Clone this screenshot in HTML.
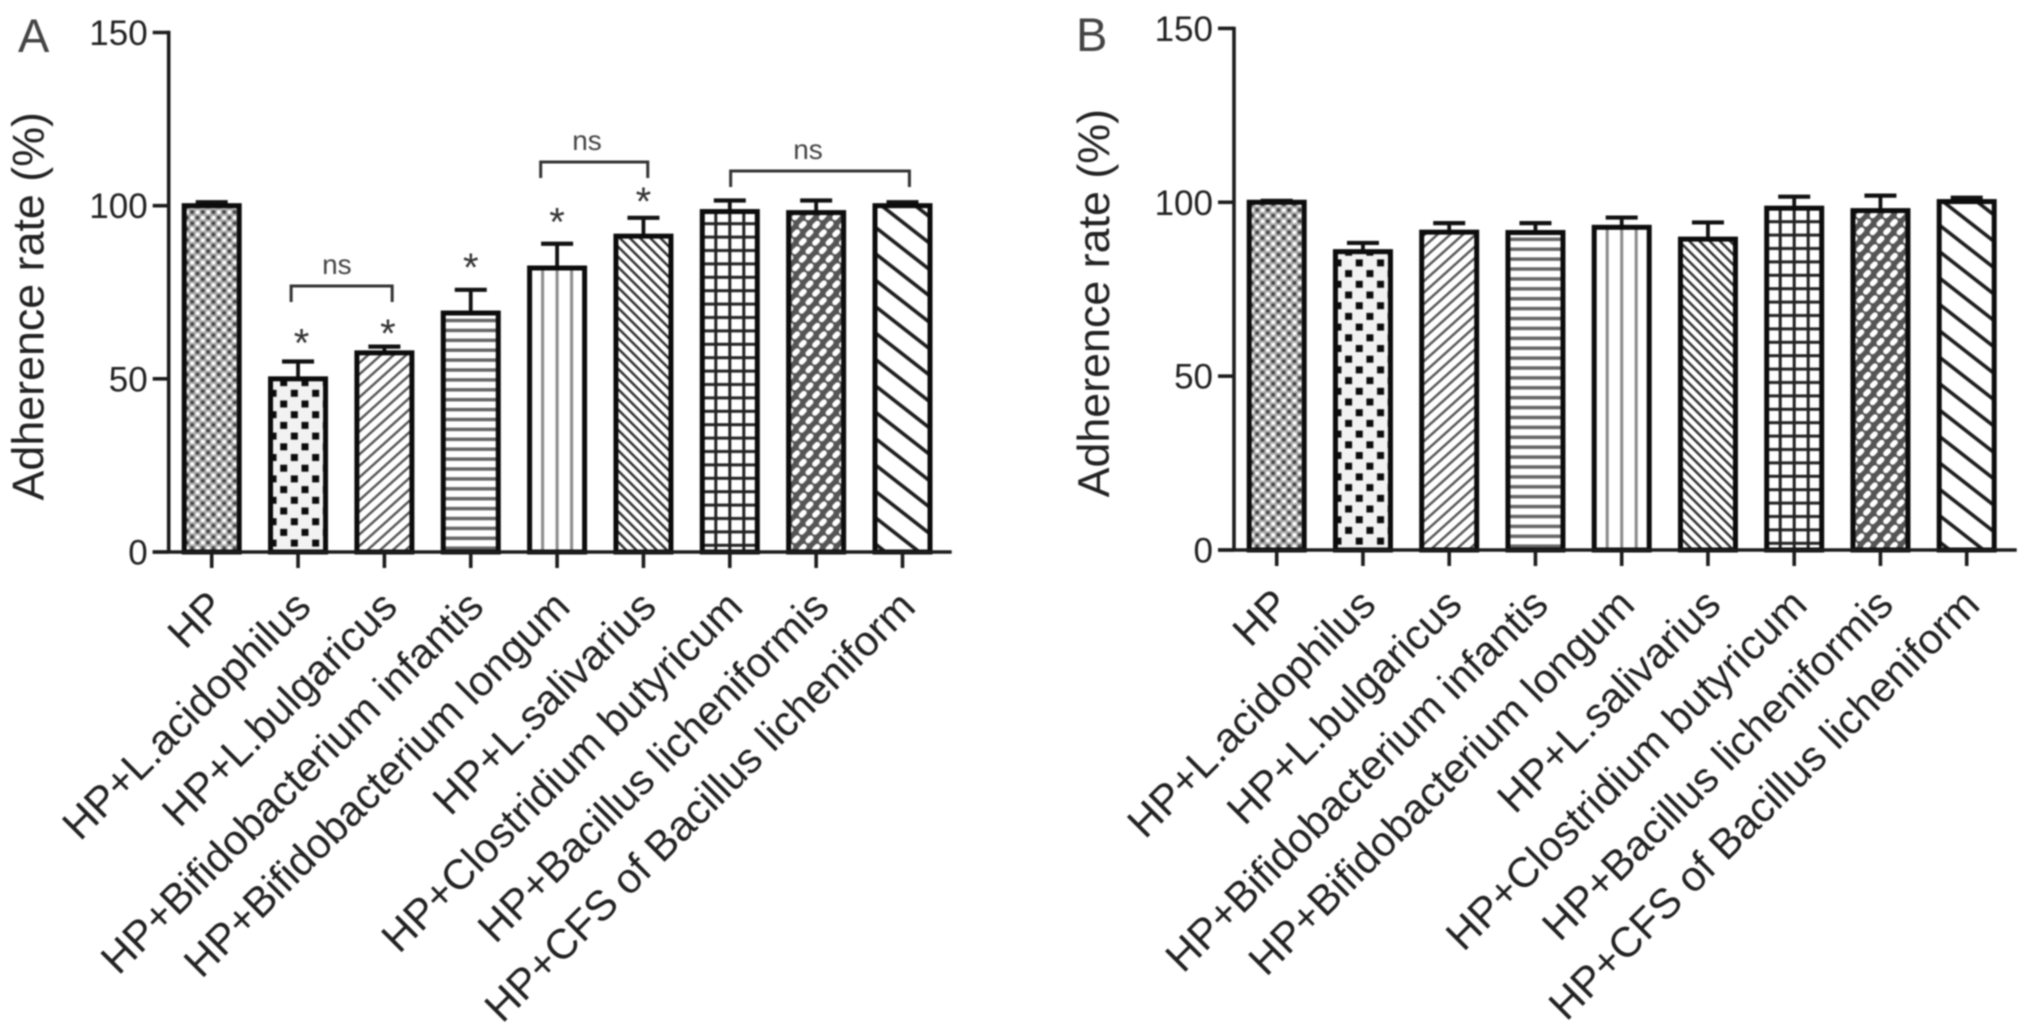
<!DOCTYPE html>
<html lang="en">
<head>
<meta charset="utf-8">
<title>Adherence rate bar charts</title>
<style>
html,body{margin:0;padding:0;background:#fff;}
body{width:2031px;height:1035px;overflow:hidden;}
svg{display:block;filter:blur(0.9px);}
text{font-family:"Liberation Sans",Arial,sans-serif;}
</style>
</head>
<body>
<svg id="chart" xmlns="http://www.w3.org/2000/svg" width="2031" height="1035" viewBox="0 0 2031 1035"></svg>
<script>
const categories = ["HP","HP+L.acidophilus","HP+L.bulgaricus","HP+Bifidobacterium infantis","HP+Bifidobacterium longum","HP+L.salivarius","HP+Clostridium butyricum","HP+Bacillus licheniformis","HP+CFS of Bacillus licheniform"];
const yTicks = [0,50,100,150];
const valuesA = [100,50,57.5,69,82,91.2,98.3,98,100];
const capsA = [101,55,59.3,75.7,89,96.5,101.5,101.5,101];
const valuesB = [100,85.8,91.4,91.3,92.8,89.4,98.3,97.6,100.2];
const capsB = [100.4,88.3,94,94,95.6,94.2,101.6,101.9,101.3];
const starPosA = [1.04,2.04,3,4,5];
const starLevelsA = [62,64.7,83.7,96.8,102.8];
const bracketFromA = [0.92,3.81,6.01];
const bracketToA = [2.09,5.05,8.08];
const bracketLevelsA = [76.8,112.6,110];
const bracketLabelPosA = [1.45,4.346,6.906];
const bracketLabelsA = ["ns","ns","ns"];

const SVGNS = "http://www.w3.org/2000/svg";
const svg = document.getElementById("chart");
const defs = document.createElementNS(SVGNS,"defs");
svg.appendChild(defs);

function mk(parent,tag,attrs,text){
  const el = document.createElementNS(SVGNS,tag);
  for(const k in attrs){ el.setAttribute(k,attrs[k]); }
  if(text!==undefined){ el.textContent = text; }
  parent.appendChild(el);
  return el;
}

function linePattern(id,spacing,angle,width,color,tx,ty){
  const p = mk(defs,"pattern",{id:id,patternUnits:"userSpaceOnUse",width:spacing,height:spacing,patternTransform:"translate("+tx+" "+ty+") rotate("+angle+")"});
  mk(p,"rect",{x:0,y:0,width:spacing,height:spacing,fill:"#fff"});
  mk(p,"rect",{x:0,y:(spacing-width)/2,width:spacing,height:width,fill:color});
}

function makePattern(kind,id,cx,base){
  let p;
  if(kind===0){
    p = mk(defs,"pattern",{id:id,patternUnits:"userSpaceOnUse",width:10.6,height:11.2,patternTransform:"translate("+cx+" "+base+")"});
    mk(p,"rect",{x:0,y:0,width:10.6,height:11.2,fill:"#aaa"});
    mk(p,"rect",{x:0,y:0,width:3.6,height:3.6,fill:"#fff"});
    mk(p,"rect",{x:5.3,y:5.6,width:3.6,height:3.6,fill:"#fff"});
    mk(p,"rect",{x:5.3,y:0,width:3.4,height:3.4,fill:"#444"});
    mk(p,"rect",{x:0,y:5.6,width:3.4,height:3.4,fill:"#444"});
  } else if(kind===1){
    p = mk(defs,"pattern",{id:id,patternUnits:"userSpaceOnUse",width:21.3,height:21.4,patternTransform:"translate("+cx+" "+base+")"});
    mk(p,"rect",{x:0,y:0,width:21.3,height:21.4,fill:"#f2f2f2"});
    mk(p,"rect",{x:14.1,y:9,width:7,height:7,fill:"#0c0c0c"});
    mk(p,"rect",{x:3.45,y:-1.7,width:7,height:7,fill:"#0c0c0c"});
    mk(p,"rect",{x:3.45,y:19.7,width:7,height:7,fill:"#0c0c0c"});
  } else if(kind===2){
    linePattern(id,8.5,-42,2.4,"#555",cx,base);
  } else if(kind===3){
    p = mk(defs,"pattern",{id:id,patternUnits:"userSpaceOnUse",width:9.9,height:9.9,patternTransform:"translate("+cx+" "+base+")"});
    mk(p,"rect",{x:0,y:0,width:9.9,height:9.9,fill:"#fff"});
    mk(p,"rect",{x:0,y:4.35,width:9.9,height:3.5,fill:"#666"});
  } else if(kind===4){
    p = mk(defs,"pattern",{id:id,patternUnits:"userSpaceOnUse",width:14.5,height:14.5,patternTransform:"translate("+(cx-7.25)+" "+base+")"});
    mk(p,"rect",{x:0,y:0,width:14.5,height:14.5,fill:"#fff"});
    mk(p,"rect",{x:5.75,y:0,width:3,height:14.5,fill:"#8a8a8a"});
  } else if(kind===5){
    linePattern(id,7.2,45,2.5,"#333",cx,base);
  } else if(kind===6){
    p = mk(defs,"pattern",{id:id,patternUnits:"userSpaceOnUse",width:14,height:13.4,patternTransform:"translate("+(cx-7)+" "+base+")"});
    mk(p,"rect",{x:0,y:0,width:14,height:13.4,fill:"#fff"});
    mk(p,"rect",{x:5.5,y:0,width:3,height:13.4,fill:"#222"});
    mk(p,"rect",{x:0,y:5.2,width:14,height:3,fill:"#222"});
  } else if(kind===7){
    p = mk(defs,"pattern",{id:id,patternUnits:"userSpaceOnUse",width:13.4,height:17,patternTransform:"translate("+cx+" "+base+")"});
    mk(p,"rect",{x:0,y:0,width:13.4,height:17,fill:"#555"});
    mk(p,"rect",{x:-4.5,y:-2.75,width:9,height:5.5,rx:2.7,fill:"#fff",transform:"translate(6.7 4.25) rotate(-45)"});
    mk(p,"rect",{x:-4.5,y:-2.75,width:9,height:5.5,rx:2.7,fill:"#fff",transform:"translate(0 12.75) rotate(-45)"});
    mk(p,"rect",{x:-4.5,y:-2.75,width:9,height:5.5,rx:2.7,fill:"#fff",transform:"translate(13.4 12.75) rotate(-45)"});
  } else {
    linePattern(id,20.8,38,3.6,"#1c1c1c",cx,base);
  }
}

function drawPanel(panel,axisX,firstX,stepX,axisEnd,y0,y150,vals,caps){
  const xPos = i => firstX + stepX*i;
  const yPos = v => y0 - (y0-y150)*v/150;
  const g = mk(svg,"g",{});
  
  

  vals.forEach((v,i)=>{
    const cx = xPos(i), top = yPos(v), capY = yPos(caps[i]);
    const stem = mk(g,"line",{x1:cx,x2:cx,y1:top,y2:capY,stroke:"#111","stroke-width":3.8});
    
    
    const cap = mk(g,"line",{x1:cx-16,x2:cx+16,y1:capY,y2:capY,stroke:"#111","stroke-width":4.2});
    
    
    const pid = "pat"+panel+i;
    makePattern(i,pid,cx,y0);
    const bar = mk(g,"rect",{x:cx-27.5,y:top,width:55,height:y0-top,fill:"url(#"+pid+")",stroke:"#0c0c0c","stroke-width":5});
    
    
  });

  const yAxis = mk(g,"line",{x1:axisX,x2:axisX,y1:y150-1.7,y2:y0,stroke:"#1c1c1c","stroke-width":3.6});
  
  
  const xAxis = mk(g,"line",{x1:axisX-16,x2:axisEnd,y1:y0,y2:y0,stroke:"#1c1c1c","stroke-width":3.6});
  
  

  yTicks.forEach(t=>{
    const yy = yPos(t);
    const tick = mk(g,"line",{x1:axisX-16,x2:axisX,y1:yy,y2:yy,stroke:"#1c1c1c","stroke-width":3.6});
    
    
    const lab = mk(g,"text",{x:axisX-21,y:yy+12.5,"text-anchor":"end","font-size":35,fill:"#222"},String(t));
    
    
  });

  categories.forEach((c,i)=>{
    const cx = xPos(i);
    const tick = mk(g,"line",{x1:cx,x2:cx,y1:y0,y2:y0+16,stroke:"#1c1c1c","stroke-width":3.6});
    
    
    const ax = cx+15, ay = y0+57;
    const lab = mk(g,"text",{x:ax,y:ay,"text-anchor":"end","font-size":42.2,fill:"#222",transform:"rotate(-45 "+ax+" "+ay+")"},c);
    
    
  });

  const tx = axisX-125, ty = (y0+y150)/2+14;
  const title = mk(g,"text",{x:tx,y:ty,"text-anchor":"middle","font-size":44.8,fill:"#222",transform:"rotate(-90 "+tx+" "+ty+")"},"Adherence rate (%)");
  
  

  return {xPos,yPos,g};
}

const pa = drawPanel("A",168.7,211.7,86.35,951.7,552,32.5,valuesA,capsA);
const pb = drawPanel("B",1234,1276.7,86.25,2016.7,550,28.4,valuesB,capsB);

starPosA.forEach((b,i)=>{
  const s = mk(pa.g,"text",{x:pa.xPos(b),y:pa.yPos(starLevelsA[i])+19,"text-anchor":"middle","font-size":40,fill:"#333"},"*");
  
  
});

bracketFromA.forEach((f,i)=>{
  const x1 = pa.xPos(f), x2 = pa.xPos(bracketToA[i]), yy = pa.yPos(bracketLevelsA[i]);
  const br = mk(pa.g,"path",{d:"M"+x1+" "+(yy+16)+"V"+yy+"H"+x2+"V"+(yy+16),fill:"none",stroke:"#333","stroke-width":3});
  
  
  const t = mk(pa.g,"text",{x:pa.xPos(bracketLabelPosA[i]),y:yy-12,"text-anchor":"middle","font-size":28,fill:"#444"},bracketLabelsA[i]);
  
  
});

const letterA = mk(svg,"text",{x:18,y:52,"font-size":47,fill:"#444"},"A");


const letterB = mk(svg,"text",{x:1076,y:51,"font-size":47,fill:"#444"},"B");


</script>
</body>
</html>
